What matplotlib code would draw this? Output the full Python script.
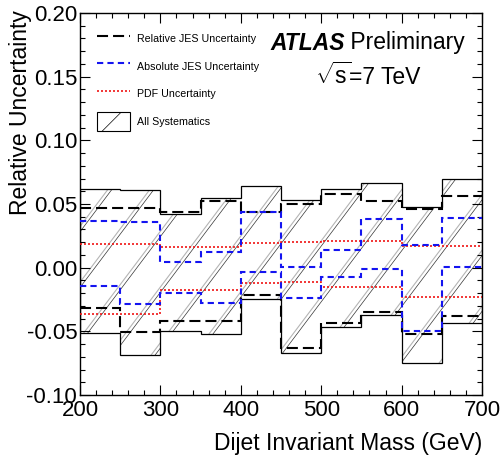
import numpy as np
import matplotlib
matplotlib.use("Agg")
import matplotlib.pyplot as plt
from matplotlib.lines import Line2D
from matplotlib.patches import Patch
from matplotlib.collections import LineCollection
from matplotlib.ticker import MultipleLocator, FormatStrFormatter

plt.rcParams['font.family'] = ['Liberation Sans', 'DejaVu Sans']
plt.rcParams['axes.unicode_minus'] = False
plt.rcParams['mathtext.fontset'] = 'custom'
plt.rcParams['mathtext.rm'] = 'Liberation Sans'
plt.rcParams['mathtext.it'] = 'Liberation Sans:italic'
plt.rcParams['hatch.linewidth'] = 0.5

# ---- data ----
edges = [200, 250, 300, 350, 400, 450, 500, 550, 600, 650, 700]
rel_up = [0.047, 0.047, 0.0435, 0.052, 0.044, 0.0498, 0.0577, 0.052, 0.046, 0.0563]
rel_dn = [-0.032, -0.0508, -0.0416, -0.0416, -0.0214, -0.0628, -0.0437, -0.0345, -0.052, -0.0377]
abs_up = [0.0367, 0.0356, 0.0047, 0.0121, 0.0435, 0.0008, 0.0139, 0.038, 0.0178, 0.0388]
abs_dn = [-0.0144, -0.0285, -0.0201, -0.0275, -0.0031, -0.024, -0.0076, -0.0013, -0.0497, 0.0008]
pdf_up = [0.0186, 0.0186, 0.016, 0.016, 0.0197, 0.020, 0.021, 0.021, 0.0173, 0.0173]
pdf_dn = [-0.0366, -0.0366, -0.0175, -0.0175, -0.0118, -0.0115, -0.0154, -0.0154, -0.0228, -0.0228]
sys_up = [0.0618, 0.061, 0.042, 0.055, 0.064, 0.053, 0.0618, 0.0668, 0.048, 0.0697]
sys_dn = [-0.051, -0.0686, -0.0497, -0.0523, -0.0246, -0.0673, -0.0463, -0.0372, -0.0751, -0.0437]

legend_labels = ["Relative JES Uncertainty", "Absolute JES Uncertainty",
                 "PDF Uncertainty", "All Systematics"]

# ---- figure ----
W, H = 502, 463
fig = plt.figure(figsize=(W / 100, H / 100), dpi=100)
ax_l, ax_r, ax_t, ax_b = 80, 482, 13, 395
ax = fig.add_axes([ax_l / W, 1 - ax_b / H, (ax_r - ax_l) / W, (ax_b - ax_t) / H])

# systematics band: clip region, outline and hatching
clip = ax.stairs(sys_up, edges, baseline=sys_dn, fill=True,
                 facecolor='none', edgecolor='none', zorder=1)
ax.stairs(sys_up, edges, baseline=sys_dn, fill=False,
          color='black', lw=0.9, zorder=2)

axw, axh = ax_r - ax_l, ax_b - ax_t
ang = np.deg2rad(53)
run = axh / np.tan(ang)  # px horizontal run over full height
segs_k, segs_g = [], []
for x0 in np.arange(-39 - 6 * 42, axw + 42, 42):
    segs_k.append([(x0 / axw, 0), ((x0 + run) / axw, 1)])
    segs_g.append([((x0 - 4) / axw, 0), ((x0 - 4 + run) / axw, 1)])
for segs, col, lw in [(segs_g, '#b5b5b5', 0.8), (segs_k, '#333333', 0.5)]:
    lc = LineCollection(segs, colors=col, linewidths=lw, transform=ax.transAxes, zorder=1.5)
    lc.set_clip_path(clip)
    ax.add_collection(lc)

# uncertainty lines
blk = dict(color='black', lw=1.5, linestyle=(0, (5.3, 2.4)), zorder=3)
blu = dict(color='#1414f0', lw=1.5, linestyle=(0, (3.0, 2.0)), zorder=5)
red = dict(color='#f01414', lw=1.2, linestyle=(0, (1.2, 1.2)), zorder=4)
for vals in (rel_up, rel_dn):
    ax.stairs(vals, edges, baseline=None, **blk)
for vals in (pdf_up, pdf_dn):
    ax.stairs(vals, edges, baseline=None, **red)
for vals in (abs_up, abs_dn):
    ax.stairs(vals, edges, baseline=None, **blu)

ax.set_xlim(200, 700)
ax.set_ylim(-0.10, 0.20)

# ticks
ax.xaxis.set_major_locator(MultipleLocator(100))
ax.xaxis.set_minor_locator(MultipleLocator(20))
ax.yaxis.set_major_locator(MultipleLocator(0.05))
ax.yaxis.set_minor_locator(MultipleLocator(0.01))
ax.yaxis.set_major_formatter(FormatStrFormatter('%.2f'))
ax.tick_params(which='both', direction='in', top=True, right=True, width=0.8)
ax.tick_params(which='major', length=7, labelsize=16, pad=2)
ax.tick_params(axis='x', which='major', pad=3.5)
ax.tick_params(which='minor', length=3.5)
for s in ax.spines.values():
    s.set_linewidth(1.0)

ax.set_xlabel("Dijet Invariant Mass (GeV)", fontsize=16.5, loc='right')
ax.xaxis.set_label_coords(1.0, -0.098)
ax.set_ylabel("Relative Uncertainty", fontsize=16.5, loc='top')
ax.yaxis.set_label_coords((32 - ax_l) / axw, (ax_b - 10) / axh)

# ATLAS label
t1 = ax.text((270 - ax_l) / axw, (ax_b - 43) / axh, "ATLAS", transform=ax.transAxes,
             fontsize=16.5, fontweight='bold', fontstyle='italic', va='center', ha='left')
ax.annotate(" Preliminary", xycoords=t1, xy=(1, 0.5), va='center', ha='left',
            fontsize=16.5)
y_rs = (ax_b - 84) / axh
t2 = ax.text((315 - ax_l) / axw, y_rs, r"$\sqrt{\mathrm{s}}$",
             transform=ax.transAxes, fontsize=16.5, va='baseline', ha='left')
ax.annotate("=7 TeV", xycoords=(t2, ax.transAxes), xy=(1, y_rs),
            xytext=(-1.5, 0), textcoords='offset points',
            va='baseline', ha='left', fontsize=16.5, annotation_clip=False)

# legend
handles = [Line2D([], [], **{k: v for k, v in blk.items() if k != 'zorder'}),
           Line2D([], [], **{k: v for k, v in blu.items() if k != 'zorder'}),
           Line2D([], [], **{k: v for k, v in red.items() if k != 'zorder'}),
           Patch(facecolor='white', edgecolor='black', hatch='/', lw=0.8)]
fs = 7.7
em = fs * 100 / 72
row_h = 19 / em
hh = (row_h - 0.245) / 0.65
ax.legend(handles, legend_labels, loc='upper left',
          bbox_to_anchor=((97 - ax_l) / axw, (ax_b - 29.5) / axh),
          frameon=False, fontsize=fs, borderpad=0, borderaxespad=0,
          handlelength=33 / em, handleheight=hh, handletextpad=7 / em,
          labelspacing=(27.5 - 19) / em)

fig.savefig("out.png", dpi=100)
